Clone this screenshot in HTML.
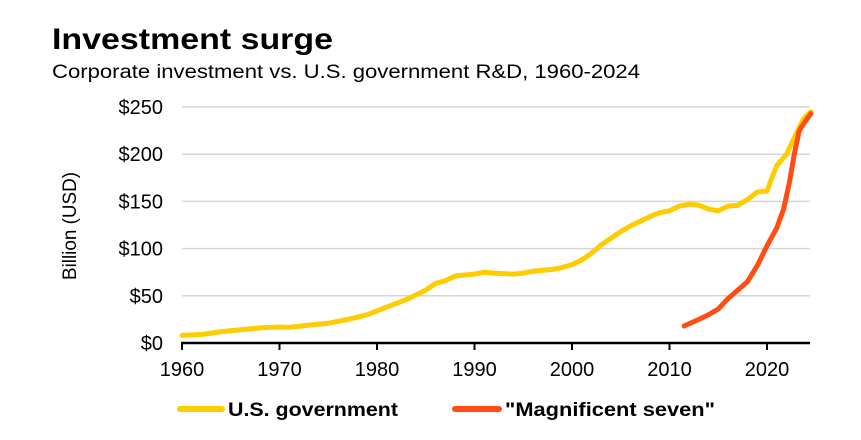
<!DOCTYPE html>
<html><head><meta charset="utf-8"><style>
body{margin:0;background:#fff;width:861px;height:435px;overflow:hidden;font-family:"Liberation Sans",sans-serif}
</style></head><body>
<svg width="861" height="435" id="c">
<text x="52" y="49" font-size="30" font-weight="bold" fill="#000" textLength="281" lengthAdjust="spacingAndGlyphs">Investment surge</text>
<text x="52" y="78" font-size="19" fill="#000" textLength="588" lengthAdjust="spacingAndGlyphs">Corporate investment vs. U.S. government R&amp;D, 1960-2024</text>
<text transform="translate(76,226) rotate(-90)" text-anchor="middle" font-size="19" fill="#000" textLength="108" lengthAdjust="spacingAndGlyphs">Billion (USD)</text>
<g id="grid"></g><g id="series"></g>
<g>
<line x1="180" y1="409" x2="222" y2="409" stroke="#FFCC00" stroke-width="6" stroke-linecap="round"/>
<text x="228" y="416" font-size="19" font-weight="bold" textLength="170" lengthAdjust="spacingAndGlyphs">U.S. government</text>
<line x1="455" y1="409" x2="499" y2="409" stroke="#FF4D14" stroke-width="6" stroke-linecap="round"/>
<text x="505" y="416" font-size="19" font-weight="bold" textLength="210" lengthAdjust="spacingAndGlyphs">"Magnificent seven"</text>
</g>
</svg>
<script>
const yTicks=[0,50,100,150,200,250];
const yTickLabels=["$0","$50","$100","$150","$200","$250"];
const xTicks=[1960,1970,1980,1990,2000,2010,2020];
const govYears=[1960,1962,1964,1966,1968,1970,1971,1973,1975,1977,1979,1981,1983,1985,1986,1987,1988,1989,1990,1991,1992,1994,1995,1996,1998,1999,2000,2001,2002,2003,2004,2005,2006,2007,2008,2009,2010,2011,2012,2013,2014,2015,2016,2017,2018,2019,2020,2020.5,2021,2022,2023,2023.8,2024.5];
const govValues=[8,9,12,14,16,17,16.5,19,21,25,30,38,46,56,63,66,71,72,73,75,74,73,74,76,78,80,83,88,95,104,111,118,124,129,134,138,140,145,147,146,142,140,145,146,152,160,161,175,188,200,222,238,245];
const magYears=[2011.5,2013,2014,2015,2016,2017,2018,2019,2020,2021,2021.7,2022.3,2022.8,2023.3,2024,2024.5];
const magValues=[18,25,30,36,47,56,65,82,103,122,142,170,200,225,236,243];
const X=y=>182+(y-1960)*9.75;
const Y=v=>343-v*0.944;
const NS="http://www.w3.org/2000/svg";
const grid=document.getElementById('grid'),ser=document.getElementById('series');
function mk(t,a,p){const e=document.createElementNS(NS,t);for(const k in a)e.setAttribute(k,a[k]);p.appendChild(e);return e;}
yTicks.forEach((v,i)=>{
 if(v>0){const l=mk('line',{x1:182,x2:810,y1:Y(v),y2:Y(v),stroke:'#d6d6d6','stroke-width':1.5},grid);
 
 }
 const t=mk('text',{x:163,y:Y(v)+7,'text-anchor':'end','font-size':20},grid);t.textContent=yTickLabels[i];
 
 
});
const ax=mk('line',{x1:181,x2:810,y1:343,y2:343,stroke:'#000','stroke-width':2.5},grid);


xTicks.forEach(y=>{
 const tk=mk('line',{x1:X(y),x2:X(y),y1:343,y2:350,stroke:'#000','stroke-width':2},grid);
 
 
 const t=mk('text',{x:X(y),y:376,'text-anchor':'middle','font-size':20},grid);t.textContent=y;
 
 
});
function line(xs,vs,col,name){
 const d=xs.map((x,i)=>(i?'L':'M')+X(x).toFixed(1)+','+Y(vs[i]).toFixed(1)).join('');
 const p=mk('path',{d:d,fill:'none',stroke:col,'stroke-width':5,'stroke-linejoin':'round','stroke-linecap':'round'},ser);
 
 
}
line(govYears,govValues,'#FFCC00','line-us-government');
line(magYears,magValues,'#FF4D14','line-magnificent-seven');
</script>
</body></html>
